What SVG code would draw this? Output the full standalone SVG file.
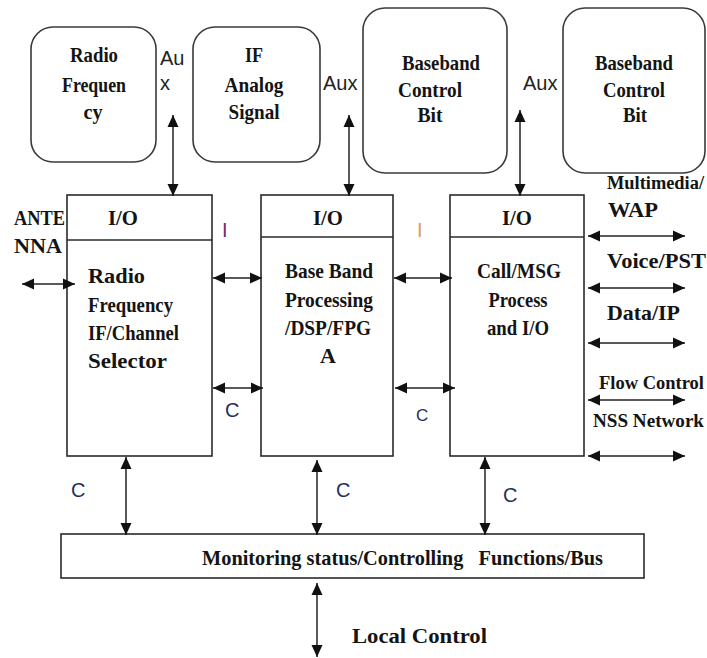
<svg xmlns="http://www.w3.org/2000/svg" width="707" height="658" viewBox="0 0 707 658">
<style>
.box{fill:#fff;stroke:#2a2a2a;stroke-width:1.6}
.rbox{fill:#fff;stroke:#3a3a3a;stroke-width:1.6}
.t{font-family:"Liberation Serif","Times New Roman",serif;font-weight:bold;font-size:22px;fill:#141414}
.r{font-size:18.5px}
.m{text-anchor:middle}
.s{font-family:"Liberation Sans",Arial,sans-serif;font-size:20px;fill:#222}
.c{font-family:"Liberation Sans",Arial,sans-serif;font-size:20px;fill:#1f2f5a}
.ln{stroke:#222;stroke-width:1.5;fill:none;marker-start:url(#ah);marker-end:url(#ah)}
</style>
<defs>
<marker id="ah" viewBox="0 0 12 12" refX="12" refY="6" markerWidth="12" markerHeight="12" markerUnits="userSpaceOnUse" orient="auto-start-reverse">
<path d="M0,0.5 L12,6 L0,11.5 Z" fill="#111"/>
</marker>
</defs>

<g id="radio-frequency-top">
<rect class="rbox" x="31" y="27" width="125" height="135" rx="22"/>
<text class="t m" x="94" y="62" textLength="48" lengthAdjust="spacingAndGlyphs">Radio</text>
<text class="t m" x="94" y="92" textLength="64" lengthAdjust="spacingAndGlyphs">Frequen</text>
<text class="t m" x="93" y="119" textLength="19" lengthAdjust="spacingAndGlyphs">cy</text>
</g>
<g id="if-analog-signal">
<rect class="rbox" x="193" y="27" width="127" height="135" rx="22"/>
<text class="t m" x="254" y="62" textLength="18" lengthAdjust="spacingAndGlyphs">IF</text>
<text class="t m" x="254" y="92" textLength="59" lengthAdjust="spacingAndGlyphs">Analog</text>
<text class="t m" x="254" y="119" textLength="51" lengthAdjust="spacingAndGlyphs">Signal</text>
</g>
<g id="baseband-control-bit-1">
<rect class="rbox" x="363" y="8" width="144" height="165" rx="22"/>
<text class="t m" x="441" y="70" textLength="78" lengthAdjust="spacingAndGlyphs">Baseband</text>
<text class="t m" x="430" y="97" textLength="64" lengthAdjust="spacingAndGlyphs">Control</text>
<text class="t m" x="430" y="122" textLength="25" lengthAdjust="spacingAndGlyphs">Bit</text>
</g>
<g id="baseband-control-bit-2">
<rect class="rbox" x="563" y="8" width="142" height="165" rx="22"/>
<text class="t m" x="634" y="70" textLength="78" lengthAdjust="spacingAndGlyphs">Baseband</text>
<text class="t m" x="634" y="97" textLength="62" lengthAdjust="spacingAndGlyphs">Control</text>
<text class="t m" x="635" y="122" textLength="24" lengthAdjust="spacingAndGlyphs">Bit</text>
</g>

<g id="rf-block">
<rect class="box" x="67" y="195" width="145" height="261"/>
<line class="box" x1="67" y1="240" x2="212" y2="240"/>
<text class="t m" x="123" y="225" textLength="30" lengthAdjust="spacingAndGlyphs">I/O</text>
<text class="t" x="88" y="283" textLength="57" lengthAdjust="spacingAndGlyphs">Radio</text>
<text class="t" x="88" y="312" textLength="85" lengthAdjust="spacingAndGlyphs">Frequency</text>
<text class="t" x="88" y="340" textLength="91" lengthAdjust="spacingAndGlyphs">IF/Channel</text>
<text class="t" x="88" y="368" textLength="79" lengthAdjust="spacingAndGlyphs">Selector</text>
</g>
<g id="baseband-block">
<rect class="box" x="261" y="195" width="132" height="261"/>
<line class="box" x1="261" y1="237" x2="393" y2="237"/>
<text class="t m" x="328" y="225" textLength="30" lengthAdjust="spacingAndGlyphs">I/O</text>
<text class="t" x="285" y="278" textLength="88" lengthAdjust="spacingAndGlyphs">Base Band</text>
<text class="t" x="285" y="307" textLength="88" lengthAdjust="spacingAndGlyphs">Processing</text>
<text class="t" x="285" y="335" textLength="86" lengthAdjust="spacingAndGlyphs">/DSP/FPG</text>
<text class="t m" x="328" y="363">A</text>
</g>
<g id="call-block">
<rect class="box" x="450" y="195" width="134" height="261"/>
<line class="box" x1="450" y1="237" x2="584" y2="237"/>
<text class="t m" x="517" y="225" textLength="30" lengthAdjust="spacingAndGlyphs">I/O</text>
<text class="t m" x="519" y="278" textLength="84" lengthAdjust="spacingAndGlyphs">Call/MSG</text>
<text class="t m" x="518" y="307" textLength="59" lengthAdjust="spacingAndGlyphs">Process</text>
<text class="t m" x="518" y="335" textLength="62" lengthAdjust="spacingAndGlyphs">and I/O</text>
</g>
<g id="bus">
<rect class="box" x="61" y="534" width="583" height="44"/>
<text class="t" x="202" y="565" xml:space="preserve" textLength="401" lengthAdjust="spacingAndGlyphs">Monitoring status/Controlling   Functions/Bus</text>
</g>

<g id="labels">
<text class="s" x="160" y="65">Au</text>
<text class="s" x="160" y="90">x</text>
<text class="s" x="323" y="90">Aux</text>
<text class="s" x="523" y="90">Aux</text>
<text class="t" x="14" y="225" textLength="51" lengthAdjust="spacingAndGlyphs">ANTE</text>
<text class="t" x="14" y="253" textLength="48" lengthAdjust="spacingAndGlyphs">NNA</text>
<text class="s" x="222" y="237" style="fill:#6a2f70">I</text>
<text class="s" x="417" y="237" style="fill:#d9a066">I</text>
<text class="c" x="225" y="417">C</text>
<text class="c" x="416" y="421" style="font-size:17px">C</text>
<text class="c" x="71" y="497">C</text>
<text class="c" x="336" y="497">C</text>
<text class="c" x="503" y="502">C</text>
<text class="t r" x="607" y="189" textLength="97" lengthAdjust="spacingAndGlyphs">Multimedia/</text>
<text class="t" x="608" y="217" textLength="50" lengthAdjust="spacingAndGlyphs">WAP</text>
<text class="t" x="607" y="268" textLength="99" lengthAdjust="spacingAndGlyphs">Voice/PST</text>
<text class="t" x="607" y="320" textLength="73" lengthAdjust="spacingAndGlyphs">Data/IP</text>
<text class="t r" x="599" y="389" textLength="105" lengthAdjust="spacingAndGlyphs">Flow Control</text>
<text class="t r" x="593" y="427" textLength="111" lengthAdjust="spacingAndGlyphs">NSS Network</text>
<text class="t" x="352" y="643" textLength="135" lengthAdjust="spacingAndGlyphs">Local Control</text>
</g>

<g id="connectors">
<line class="ln" x1="173" y1="115" x2="173" y2="196"/>
<line class="ln" x1="349" y1="115" x2="349" y2="196"/>
<line class="ln" x1="520" y1="110" x2="520" y2="196"/>
<line class="ln" x1="22" y1="284" x2="75" y2="284"/>
<line class="ln" x1="213" y1="278" x2="262" y2="278"/>
<line class="ln" x1="213" y1="388" x2="263" y2="388"/>
<line class="ln" x1="394" y1="278" x2="452" y2="278"/>
<line class="ln" x1="395" y1="388" x2="455" y2="388"/>
<line class="ln" x1="588" y1="236" x2="685" y2="236"/>
<line class="ln" x1="588" y1="288" x2="685" y2="288"/>
<line class="ln" x1="588" y1="343" x2="685" y2="343"/>
<line class="ln" x1="588" y1="400" x2="685" y2="400"/>
<line class="ln" x1="588" y1="456" x2="685" y2="456"/>
<line class="ln" x1="126" y1="457" x2="126" y2="535"/>
<line class="ln" x1="317" y1="460" x2="317" y2="535"/>
<line class="ln" x1="485" y1="457" x2="485" y2="535"/>
<line class="ln" x1="317" y1="583" x2="317" y2="657"/>
</g>
</svg>
